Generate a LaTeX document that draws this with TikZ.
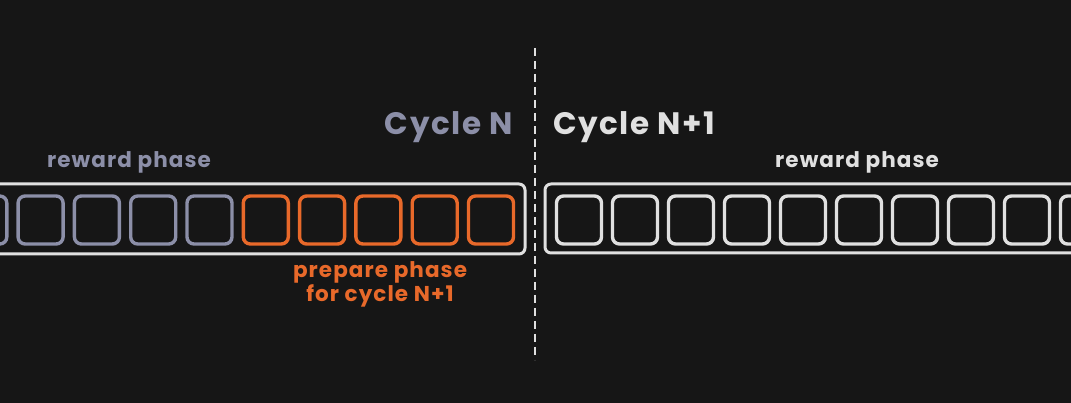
\documentclass[tikz,border=0pt]{standalone}
\usepackage{fontspec}
\setmainfont{Poppins}
\newfontfamily\hand{Poppins}[LetterSpace=5]
\definecolor{bg}{HTML}{161616}
\definecolor{greyblue}{HTML}{8C8FA8}
\definecolor{orng}{HTML}{E8692A}
\definecolor{offwhite}{HTML}{E0E0E0}
\tikzset{
  cell/.style={draw=#1, line width=3.4pt, rounded corners=7pt, minimum width=45pt, minimum height=48pt, inner sep=0pt},
  frame/.style={draw=offwhite, line width=3pt, rounded corners=6pt, inner sep=0pt},
  bigtitle/.style={font=\hand\bfseries\fontsize{31}{34}\selectfont, text=#1, inner sep=0pt},
  phase/.style={font=\hand\bfseries\fontsize{21.5}{24}\selectfont, text=#1, inner sep=0pt},
}
\begin{document}
\begin{tikzpicture}[x=1pt,y=-1pt]
\fill[bg] (0,0) rectangle (1071,403);
\useasboundingbox (0,0) rectangle (1071,403);
\begin{scope}
\clip (0,0) rectangle (1071,403);
% outer frames
\node[frame, minimum width=536pt, minimum height=70pt] (leftframe) at (257,219) {};
\node[frame, minimum width=545pt, minimum height=69pt] (rightframe) at (817.5,218.5) {};
% left cells
\foreach \i/\c in {0/greyblue,1/greyblue,2/greyblue,3/greyblue,4/greyblue,5/orng,6/orng,7/orng,8/orng,9/orng}{
  \node[cell=\c] (l\i) at ({-15.7+56.3*\i},220) {};
}
% right cells
\foreach \i in {0,...,9}{
  \node[cell=offwhite] (r\i) at ({579+56*\i},220) {};
}
\end{scope}
% divider
\coordinate (dtop) at (535,48);
\coordinate (dbot) at (535,360);
\draw[offwhite, line width=2.8pt, dash pattern=on 8pt off 5pt] (dtop) -- (dbot);
% titles
\node[bigtitle=greyblue, anchor=east] (cyn) at (513,127) {Cycle N};
\node[bigtitle=offwhite, anchor=west] (cyn1) at (553,127) {Cycle N+1};
\node[phase=greyblue] (rpl) at (129,162) {reward phase};
\node[phase=offwhite] (rpr) at (857,162) {reward phase};
\node[phase=orng, align=center] (prep) at (380,284) {prepare phase\\for cycle N+1};
\end{tikzpicture}
\end{document}
